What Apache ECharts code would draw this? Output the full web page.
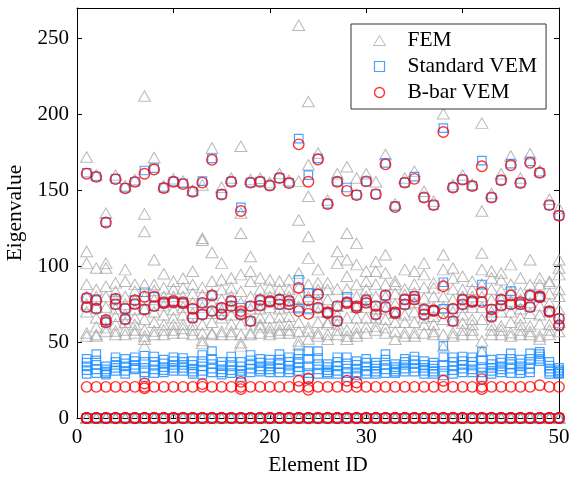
<!DOCTYPE html>
<html><head><meta charset="utf-8">
<script src="https://cdn.jsdelivr.net/npm/echarts/dist/echarts.min.js"></script>
<style>html,body{margin:0;padding:0;background:#fff}#c{width:578px;height:477px}</style>
</head><body><div id="c"></div>
<script>
const elementIds = [1,2,3,4,5,6,7,8,9,10,11,12,13,14,15,16,17,18,19,20,21,22,23,24,25,26,27,28,29,30,31,32,33,34,35,36,37,38,39,40,41,42,43,44,45,46,47,48,49,50];
const xTicks = [0,10,20,30,40,50];
const yTicks = [0,50,100,150,200,250];
const rigidModes = [0,0,0];

// FEM eigenvalues
const femHigh = [171.9,160,134.8,160,153,157,134.4,171.5,153,157.5,156,150,153.5,177.8,152,158,135,157,157.9,155,161,156.5,156,166.8,174.5,143.5,160.8,165.5,158,160.8,155.6,173.5,141,158,162.4,149.3,142.8,200.3,153.7,160,154,136.3,147.8,160.8,172.5,158,174,163,144,138];
const femOutlier = [null,null,null,null,null,null,212,null,null,null,null,null,null,null,null,null,179,null,null,null,null,null,258.6,208.4,null,null,null,null,null,null,null,null,null,null,null,null,null,null,null,null,null,194.2,null,null,null,null,null,null,null,null];
const femUpper = [null,null,null,null,null,null,122.8,null,null,null,null,null,118.4,null,null,null,121.7,null,null,null,null,null,130.4,146,null,null,null,121.7,115,null,null,null,null,null,null,null,null,null,null,null,null,null,null,null,null,null,null,null,null,null];
const fem1 = [109.7,98.8,102,89,97.7,88,87.9,104.2,95,90,92,96.6,117,109,102,92.2,94.4,106.4,92.2,91,90,91,95.5,119.5,97.7,89,109.7,104.2,101,96.6,103,107.5,90,97.7,96.6,102,89,107.5,98.8,93.3,90,108.6,96.6,95.5,101,92.2,104.2,92.2,90,104.2];
const fem2 = [102,84.6,98.8,83.5,90,83.5,80,87.9,85.7,85,85.7,87.9,86,90,91,85.7,83.5,96.6,84.6,85.7,84.6,84.6,86,105.3,89,84.6,102,93.3,87.9,90,96.6,95.5,87.9,85,88,94.4,85.7,97.7,92.2,84.6,84.6,97.7,92.2,91,88,82.4,87.9,87.9,88.8,98.8];
const fem3 = [88,80,86.8,78,80,78,72,84,80,80,80,82,81,82,84.6,80,76,90,79,80,79,80,79,88,84.6,78,85,85,80,84.6,88,88,82,81.3,82.4,86,80,88,85,80,80,88,85,84,83,78,82,80,82,94.4];
const fem4 = [80,73,80,72,75,71.5,65,78,74,71.5,73,76,73,76,78,73,70,80,72,73,72,73,73.6,80,78,70,73.6,76,73,80,80,80,75,75,76,79,73,80,78,73,73,80,78,78,77,72,76,74,75.5,84.6];
const fem5 = [75,66,73,67,68.2,66,58,70,68,66,68,69,61.6,69,71,68,62,72,66,66,66.5,67,63,72,70,63,68,66,66,73,72,72,69,68,70,72,67,73,70,68,65,73,70,70,70,66,69,68,70,80.2];
const fem6 = [70,60,65,62,63,61.6,54,63,61.6,61.6,61.6,61.6,56,63,66,62,55,64,61.6,59.5,61.6,61.6,57,59.5,63,62,62,58,59.5,66,66,65,63,63,63,66,61.6,65,64,62.6,61.6,65,61.6,60.5,63,61.6,60.5,62,61.6,71.5];
const fem7 = [56,55,59.5,57.3,58,58,51.8,57.3,58,58,59,58,51,56,57,57,49.6,56.2,60,57,58,58,50.7,57.3,56,55,58,54,56,60,60.5,59.5,57,56.2,56.2,61.6,57,55,56.2,58,58,50.7,58,58,56.2,58,57,54,58,63];
const fem8 = [54,54,57,55,55,56,47.5,55,55,56,56,55,49,55,55,55,47.5,55,56,55,56,56,48,52,54,51.8,55,51.8,54,56,58,56,51.8,54,54,56,55,47,54,55,55,44,55,55,54,55,55,52,55,57];

// Standard VEM eigenvalues
const vemHigh = [161.5,159,129,157.5,151.5,155.5,163,164.5,151.5,155.6,154.5,149,156,171,147.2,155.6,138.7,155,155.6,153.1,158,154.8,184,160,171,141,155.6,151.8,147,155.8,147.4,168,139.5,155,159,145.2,140.2,190.9,151.8,157,152.8,169.5,145.2,156.6,167.5,154.8,169,161.5,140.2,133.5];
const vemMidA = [79,77.6,64.5,78.5,72,77.6,82.8,79.8,76.3,77,76.3,71.9,75.8,80.7,72.6,77,72.6,73.7,77.6,77,78,77,91,82.4,82,69.7,73.7,79.8,73.7,77.6,73.7,80.7,69.7,78,80.5,71.5,71,89.4,71.9,78,77,87.9,71.5,78,83.5,76.3,80.7,80.2,70.4,65.4];
const vemMidB = [73,72,63,74.8,65,75,71.5,73.7,75.5,76,75.5,66,68.2,70.4,68.2,73.7,68.2,63.8,74,76.5,74.8,74.8,72,72,72.6,69,63.8,76.3,72.6,75.8,68.2,73,69,74.8,78,68.2,70.5,71.9,63.8,74.8,76.3,77,66.7,74,75,74.8,73,79.5,70,61];
const vemLow1 = [39,42,34,40,39,40,41,40.5,38.5,40,39.5,37.5,41.5,44,37,40.5,37,41.5,39,38.5,42,40,42.5,44,44,35.5,40,40,37.5,39,36.5,42,35.5,39,40.5,37.5,36.5,47.5,40,40.5,40,43.5,38.5,39,42.5,38.5,42.5,43.5,37,33];
const vemLow2 = [36.5,38,32,37,36,37.5,37,37,36,37.5,37,35,37.5,39,34.5,37,34,38,36.5,36,38.5,37,39,39,39.5,33.5,37,36,35,36.5,34.5,38.5,33.5,37,38,35,34.5,40,37,37.5,37,38,35.5,36.5,39,36,39,42,34.5,31.5];
const vemLow3 = [34,35,30.5,35,34,35,33,34.5,33.5,35,35,32.5,34,35.5,32,34,31,35,34,34,35.5,34.5,36,34,35.5,31.5,34,32.5,32.5,34,32.5,35,32,35,35.5,33,32.5,35,34,35,34.5,33.5,33,34,35.5,34,35.5,40.5,32.5,30.5];
const vemLow4 = [31.5,32,29.5,33,31,33,30,32,31.5,33,33,30.5,31,32.5,30,31.5,29,32.5,32,32,32.5,32,33.5,29.5,32,30,31,29.5,30,31,30.5,32,30.5,32.5,33,31,30.5,31,31.5,32.5,32,30,31,32,32.5,31.5,32.5,39,30.5,29.5];
const vemLow5 = [29,29.5,28.5,31,29,32,27,29.5,30,31,31,29,28.5,30,28.5,29.5,27,30,30.5,30,30,30,31,26,29,29,29,27,28,29,29,29.5,29.5,30.5,30.5,29,29,28,29,30,30,27,29,30,29.5,29.5,30,37.5,29,29];

// B-bar VEM eigenvalues
const bbarHigh = [160.8,158.8,128.7,157.3,151.2,155.5,160.8,163.6,151.5,155.6,154,149,155,170,147.2,155.6,136.3,155,155.6,153.1,158,154.8,180.2,155.6,170.2,140.9,155.6,149.6,146.8,155.8,147.4,167,139,155,157.5,145.2,140.2,188.3,151.8,157,152.8,165.8,145.2,156.6,166.4,154.8,168,161.5,140.2,133.2];
const bbarMidA = [79,77.6,64.5,78.5,72,77.6,79.8,79.8,76.3,77,76.3,71.9,75.8,80.7,72.6,77,70.4,73.7,77.6,77,78,77,85.7,77.5,81.3,69.7,73.7,76.3,73.7,77.6,73.7,80.7,69.7,78,79.8,71.5,71,86.8,71.9,78,77,82.8,71.5,78,80.7,76.3,80.7,80.2,70.4,65.4];
const bbarMidB = [73,72,63,74.8,65,75,71.5,73.7,75.5,76,75.5,66,68.2,70.4,68.2,73.7,68.2,63.8,74,76.5,74.8,74.8,70.4,68.6,72.6,69,63.8,75.5,72.6,75.8,68.2,73,69,74.8,78,68.2,70.5,68.9,63.8,74.8,76.3,76.3,66.7,74,74.8,74.8,73,79.5,70,61];
const bbarLow = [20.5,20.5,20.5,20.5,20.5,20.5,20.5,20.5,20.5,20.5,20.5,20.5,20.5,20.5,20.5,20.5,20.5,20.5,20.5,20.5,20.5,20.5,20.5,20.5,20.5,20.5,20.5,20.5,20.5,20.5,20.5,20.5,20.5,20.5,20.5,20.5,20.5,20.5,20.5,20.5,20.5,20.5,20.5,20.5,20.5,20.5,20.5,21.6,20.5,20.5];
const bbarLowExtraA = [null,null,null,null,null,null,22.7,null,null,null,null,null,22.3,null,null,null,23.8,null,null,null,null,null,24.5,26,null,null,null,24.5,23.4,null,null,null,null,null,null,null,null,24.5,null,null,null,25.6,null,null,null,null,null,null,null,null];
const bbarLowExtraB = [null,null,null,null,null,null,19.5,null,null,null,null,null,null,null,null,null,19,null,null,null,null,null,null,18.5,null,null,null,null,null,null,null,null,null,null,null,null,null,null,null,null,null,19,null,null,null,null,null,null,null,null];

function collect(lists) {
  const out = [];
  elementIds.forEach((id, i) => {
    rigidModes.forEach(v => out.push([id, v]));
    lists.forEach(arr => { if (arr[i] !== null && arr[i] !== undefined) out.push([id, arr[i]]); });
  });
  return out;
}
const femData = collect([femHigh, femOutlier, femUpper, fem1, fem2, fem3, fem4, fem5, fem6, fem7, fem8]);
const vemData = collect([vemHigh, vemMidA, vemMidB, vemLow1, vemLow2, vemLow3, vemLow4, vemLow5]);
const bbarData = collect([bbarHigh, bbarMidA, bbarMidB, bbarLow, bbarLowExtraA, bbarLowExtraB]);

const FONT = 'Liberation Serif, Times New Roman, serif';
const GRAY = '#a8a8a8', BLUE = '#1a8cff', RED = '#ff0000';
const axisCommon = {
  axisLine: { show: true, onZero: false, lineStyle: { color: '#000', width: 1 } },
  axisTick: { show: true, inside: true, length: 5, lineStyle: { color: '#000', width: 1 } },
  splitLine: { show: false }
};

const chart = echarts.init(document.getElementById('c'), null, { renderer: 'canvas' });
chart.setOption({
  animation: false,
  backgroundColor: '#fff',
  grid: { left: 77, right: 19, top: 8, bottom: 59, containLabel: false, outerBoundsMode: 'none' },
  legend: {
    orient: 'vertical', left: 351, top: 24,
    padding: [5.5, 9, 5.5, 22],
    itemGap: 4, itemWidth: 12, itemHeight: 10,
    borderColor: '#333', borderWidth: 1, backgroundColor: '#fff',
    selectedMode: false,
    textStyle: { fontFamily: FONT, fontSize: 21.5, color: '#000', lineHeight: 21, padding: [0, 0, 0, 17] },
    data: [
      { name: 'FEM', icon: 'triangle', itemStyle: { color: 'transparent', borderColor: GRAY, borderWidth: 1 } },
      { name: 'Standard VEM', icon: 'path://M0,0H10V10H0Z', itemStyle: { color: 'transparent', borderColor: BLUE, borderWidth: 1.2 } },
      { name: 'B-bar VEM', icon: 'circle', itemStyle: { color: 'transparent', borderColor: RED, borderWidth: 1.4 } }
    ]
  },
  xAxis: [
    Object.assign({
      type: 'value', position: 'bottom', min: xTicks[0], max: xTicks[xTicks.length - 1], interval: 10,
      name: 'Element ID', nameLocation: 'middle', nameGap: 36,
      nameTextStyle: { fontFamily: FONT, fontSize: 21.5, color: '#000' },
      axisLabel: { fontFamily: FONT, fontSize: 21, color: '#000', margin: 9 }
    }, axisCommon),
    Object.assign({
      type: 'value', position: 'top', min: xTicks[0], max: xTicks[xTicks.length - 1], interval: 10,
      axisLabel: { show: false }
    }, axisCommon)
  ],
  yAxis: [
    Object.assign({
      type: 'value', position: 'left', min: 0, max: 270, interval: 50,
      name: 'Eigenvalue', nameLocation: 'middle', nameGap: 47,
      nameTextStyle: { fontFamily: FONT, fontSize: 21.5, color: '#000' },
      axisLabel: { fontFamily: FONT, fontSize: 21, color: '#000', margin: 8,
        formatter: v => (yTicks.indexOf(v) >= 0 ? String(v) : '') }
    }, axisCommon),
    Object.assign({
      type: 'value', position: 'right', min: 0, max: 270, interval: 50,
      axisLabel: { show: false }
    }, axisCommon)
  ],
  series: [
    { type: 'scatter', name: 'FEM', data: femData, symbol: 'triangle', symbolSize: [12, 10.5],
      itemStyle: { color: 'transparent', borderColor: GRAY, borderWidth: 1 }, silent: true },
    { type: 'scatter', name: 'Standard VEM', data: vemData, symbol: 'rect', symbolSize: [8.5, 8.5],
      itemStyle: { color: 'transparent', borderColor: BLUE, borderWidth: 1.2 }, silent: true },
    { type: 'scatter', name: 'B-bar VEM', data: bbarData, symbol: 'circle', symbolSize: 10.5,
      itemStyle: { color: 'transparent', borderColor: RED, borderWidth: 1.4 }, silent: true }
  ]
});
</script></body></html>
